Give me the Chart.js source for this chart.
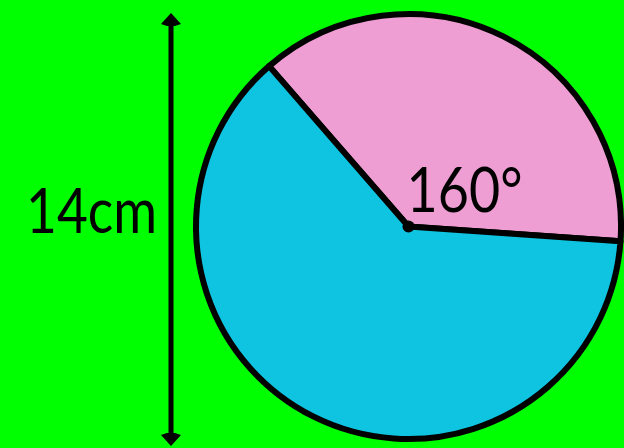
<!DOCTYPE html>
<html><head><meta charset="utf-8">
<script src="https://cdn.jsdelivr.net/npm/chart.js@4"></script>
<style>html,body{margin:0;padding:0;background:#00ff00;overflow:hidden}canvas{display:block}</style>
</head><body>
<canvas id="c" width="624" height="448"></canvas>
<script>
const categories = ['Pink sector', 'Blue sector'];
const sectorAngles = [135, 225];
const sectorColors = ['#ee9ed3', '#0fc4e0'];
const angleLabels = ['160°'];
const diameterLabel = '14cm';

const decor = {
  id: 'decor',
  beforeDraw(chart) {
    const ctx = chart.ctx;
    ctx.save();
    ctx.fillStyle = '#00ff00';
    ctx.fillRect(0, 0, chart.width, chart.height);
    ctx.restore();
  },
  afterDraw(chart) {
    const ctx = chart.ctx;
    const arc = chart.getDatasetMeta(0).data[0];
    const cx = arc.x, cy = arc.y;
    ctx.save();
    ctx.fillStyle = '#000';
    ctx.beginPath();
    ctx.arc(cx, cy, 6, 0, Math.PI * 2);
    ctx.fill();
    ctx.font = '62px Lato';
    ctx.textBaseline = 'alphabetic';
    ctx.textAlign = 'left';
    ctx.fillText(angleLabels[0], cx - 2, cy - 15, 116);
    const ax = 171, top = 13, bot = 446;
    ctx.strokeStyle = '#000';
    ctx.lineWidth = 5;
    ctx.beginPath();
    ctx.moveTo(ax, top + 8);
    ctx.lineTo(ax, bot - 8);
    ctx.stroke();
    ctx.beginPath();
    ctx.moveTo(ax, top); ctx.lineTo(ax + 10, top + 11); ctx.lineTo(ax + 4, top + 13);
    ctx.lineTo(ax - 4, top + 13); ctx.lineTo(ax - 10, top + 11); ctx.closePath();
    ctx.fill();
    ctx.beginPath();
    ctx.moveTo(ax, bot); ctx.lineTo(ax + 10, bot - 11); ctx.lineTo(ax + 4, bot - 13);
    ctx.lineTo(ax - 4, bot - 13); ctx.lineTo(ax - 10, bot - 11); ctx.closePath();
    ctx.fill();
    ctx.font = '62px Lato';
    ctx.fillText(diameterLabel, 26, 233, 131);
    ctx.restore();
  }
};

new Chart(document.getElementById('c'), {
  type: 'pie',
  data: {
    labels: categories,
    datasets: [{
      data: sectorAngles,
      backgroundColor: sectorColors,
      borderColor: '#000',
      borderWidth: 6,
      borderJoinStyle: 'round',
      hoverOffset: 0
    }]
  },
  options: {
    responsive: false,
    animation: false,
    devicePixelRatio: 1,
    rotation: -41,
    layout: { padding: { left: 193, right: 0, top: 9, bottom: 4 } },
    plugins: { legend: { display: false }, tooltip: { enabled: false } }
  },
  plugins: [decor]
});
</script>
</body></html>
